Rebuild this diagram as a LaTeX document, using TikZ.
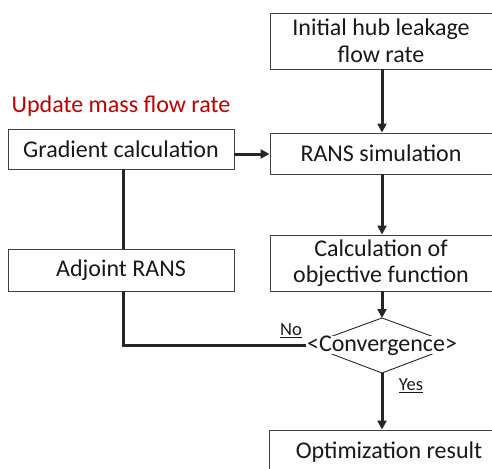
\documentclass[tikz,border=0pt]{standalone}
\usepackage{fontspec}
\setmainfont{Carlito}
\usetikzlibrary{arrows.meta}
\definecolor{txt}{RGB}{25,25,25}
\definecolor{upd}{RGB}{192,0,0}
\begin{document}
\begin{tikzpicture}[x=1pt,y=-1pt,
  box/.style={draw=black!75,line width=0.9pt,fill=white,text=txt,align=center,
    inner sep=0pt,font=\fontsize{24}{26.5}\selectfont},
  flow/.style={line width=3pt,draw=black!85},
  arr/.style={flow,-{Triangle[length=9pt,width=9pt]}},
  lbl/.style={text=txt,font=\fontsize{18.5}{20}\selectfont,inner sep=0pt}]
\useasboundingbox (0,0) rectangle (492,468);
\node[box,minimum width=222pt,minimum height=56pt] (init) at (381,41) {Initial hub leakage\\flow rate};
\node[box,minimum width=222pt,minimum height=41pt] (rans) at (381,153.5) {RANS simulation};
\node[box,minimum width=222pt,minimum height=56pt] (obj) at (381,263) {Calculation of\\objective function};
\node[box,minimum width=226pt,minimum height=40pt] (grad) at (121,149) {Gradient calculation};
\node[box,minimum width=226pt,minimum height=42pt] (adj) at (121,270) {Adjoint RANS};
\node[box,minimum width=240pt,minimum height=44pt] (opt) at (389,452) {Optimization result};
\node[text=upd,font=\fontsize{24}{26.5}\selectfont,inner sep=0pt] (upd) at (121,106) {Update mass flow rate};
% diamond
\coordinate (dt) at (382,318);
\coordinate (db) at (382,373);
\coordinate (dl) at (308,345);
\coordinate (dr) at (456,345);
\draw[black!85,line width=0.9pt] (dt) -- (dr) -- (db) -- (dl) -- cycle;
\node[fill=white,text=txt,font=\fontsize{24}{26.5}\selectfont,inner xsep=1pt,inner ysep=0pt,
  text height=15pt,text depth=3pt] (conv) at (382,345) {<Convergence>};
\coordinate (corner) at (123,345);
% connectors
\draw[arr] (init.south -| dt) -- (rans.north -| dt);
\draw[arr] (rans.south -| dt) -- (obj.north -| dt);
\draw[arr] (obj.south -| dt) -- (dt);
\draw[arr] (db) -- (opt.north -| db);
\draw[arr] (grad.east |- 0,154) -- (rans.west |- 0,154);
\draw[flow] (grad.south -| corner) -- (adj.north -| corner);
\draw[flow] (adj.south -| corner) -- (corner) -- (conv.west);
\node[lbl] (no) at (291,331) {\underline{No}};
\node[lbl] (yes) at (411,386) {\underline{Yes}};
\end{tikzpicture}
\end{document}
